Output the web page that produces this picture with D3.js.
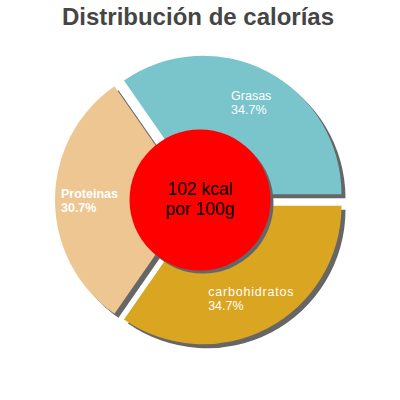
<!DOCTYPE html>
<html>
<head>
<meta charset="utf-8">
<script src="https://cdn.jsdelivr.net/npm/d3@7"></script>
<style>
  body { margin: 0; background: #fff; }
  svg { display: block; font-family: "Liberation Sans", Arial, sans-serif; }
</style>
</head>
<body>
<div id="chart_area"></div>
<script>
var categories = ["Grasas", "Proteinas", "carbohidratos"];
var percents = [34.7, 30.7, 34.7];
var percentLabels = ["34.7%", "30.7%", "34.7%"];
var sliceColors = ["#7ac4cc", "#eec691", "#daa520"];
var centerLines = ["102 kcal", "por 100g"];
var titleText = "Distribución de calorías";

var frame_width = 400;
var frame_height = 400;
var cx = 200, cy = 200;
var outer_r = 138.5;
var explode = 6.5;
var shadow_dx = 4, shadow_dy = 4;

var frame = d3.select("#chart_area").append("svg")
    .attr("width", frame_width)
    .attr("height", frame_height);

frame.append("text")
    .attr("x", 198)
    .attr("y", 25)
    .attr("text-anchor", "middle")
    .style("font-size", "24px")
    .style("font-weight", "bold")
    .style("fill", "#454545")
    .text(titleText);

var pie = d3.pie().sort(null)
    .startAngle(Math.PI / 2)
    .endAngle(Math.PI / 2 - 2 * Math.PI);

var arcs = pie(percents);
var arc = d3.arc().innerRadius(0).outerRadius(outer_r);

var offset = function(d, r) {
    var a = (d.startAngle + d.endAngle) / 2;
    return [r * Math.sin(a), -r * Math.cos(a)];
};

var canvas = frame.append("g")
    .attr("transform", "translate(" + cx + "," + cy + ")");

// shadows first
canvas.selectAll("path.shadow")
    .data(arcs)
    .enter().append("path")
    .attr("class", "shadow")
    .attr("d", arc)
    .attr("transform", function(d) {
        var o = offset(d, explode);
        return "translate(" + (o[0] + shadow_dx) + "," + (o[1] + shadow_dy) + ")";
    })
    .style("fill", "#666");

canvas.selectAll("path.slice")
    .data(arcs)
    .enter().append("path")
    .attr("class", "slice")
    .attr("d", arc)
    .attr("transform", function(d) {
        var o = offset(d, explode);
        return "translate(" + o[0] + "," + o[1] + ")";
    })
    .style("fill", function(d, i) { return sliceColors[i]; });

// center disc
canvas.append("circle")
    .attr("cx", 3).attr("cy", 3).attr("r", 70.5)
    .style("fill", "#666");
canvas.append("circle")
    .attr("r", 70.5)
    .style("fill", "#ff0000");

canvas.append("text")
    .attr("text-anchor", "middle")
    .style("font-size", "17.5px")
    .style("fill", "#000")
    .selectAll("tspan")
    .data(centerLines)
    .enter().append("tspan")
    .attr("x", 0)
    .attr("y", function(d, i) { return -5.5 + i * 20.5; })
    .text(function(d) { return d; });

// slice labels
var labels = canvas.selectAll("g.label")
    .data(arcs)
    .enter().append("g")
    .attr("class", "label");

labels.each(function(d, i) {
    var g = d3.select(this);
    var t = g.append("text")
        .style("font-size", "12.5px")
        .style("font-weight", i === 1 ? "bold" : "normal")
        .style("fill", "#fff");
    t.append("tspan").attr("x", 0).attr("y", -7)
        .style("letter-spacing", i === 2 ? "0.8px" : "0px")
        .text(categories[i]);
    t.append("tspan").attr("x", 0).attr("y", 7).text(percentLabels[i]);
    var w = t.node().getBBox().width;
    var o = offset(d, explode);
    var c = offset(d, 104);
    g.attr("transform", "translate(" + (o[0] + c[0] - w / 2) + "," + (o[1] + c[1] + 5) + ")");
});
</script>
</body>
</html>
